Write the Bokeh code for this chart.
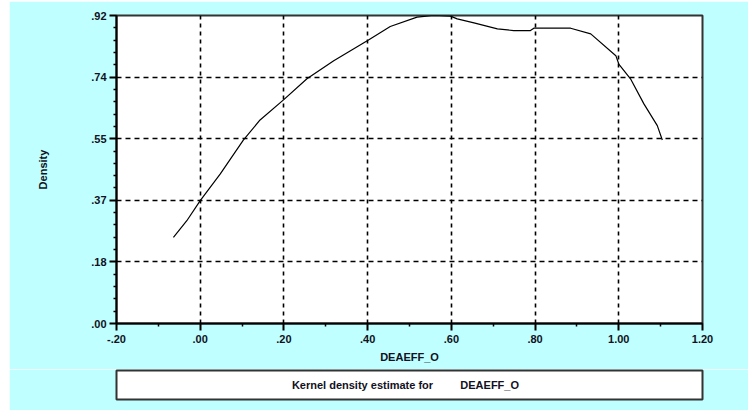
from bokeh.plotting import figure
from bokeh.models import FixedTicker, Range1d, Label
from bokeh.layouts import column
from bokeh.embed import file_html
from bokeh.resources import INLINE

# Kernel density estimate of DEAEFF_O (evaluation grid and density)
kde_x = [-0.064, -0.032, 0.000, 0.048, 0.103, 0.143, 0.199, 0.255, 0.319,
         0.359, 0.402, 0.454, 0.518, 0.557, 0.598, 0.614, 0.654, 0.710,
         0.749, 0.789, 0.797, 0.885, 0.933, 0.993, 1.000, 1.028, 1.060,
         1.092, 1.104]
kde_y = [0.257, 0.307, 0.367, 0.447, 0.548, 0.608, 0.668, 0.731, 0.785,
         0.815, 0.847, 0.887, 0.915, 0.920, 0.918, 0.910, 0.898, 0.880,
         0.875, 0.875, 0.882, 0.882, 0.865, 0.800, 0.775, 0.731, 0.656,
         0.591, 0.548]

x_ticks = [-0.2, 0.0, 0.2, 0.4, 0.6, 0.8, 1.0, 1.2]
x_tick_labels = ["-.20", ".00", ".20", ".40", ".60", ".80", "1.00", "1.20"]
x_minor = [-0.1, 0.1, 0.3, 0.5, 0.7, 0.9, 1.1]

y_ticks = [0.0, 0.184, 0.368, 0.552, 0.736, 0.92]
y_tick_labels = [".00", ".18", ".37", ".55", ".74", ".92"]
y_minor = [round(i * 0.0368, 4) for i in range(26) if i % 5 != 0]

x_title = "DEAEFF_O"
y_title = "Density"
caption_left = "Kernel density estimate for"
caption_right = "DEAEFF_O"

BG = "#BFFFFF"
INK = "#111122"
FONT = "Liberation Sans"

p = figure(width=739, height=368,
           x_range=Range1d(-0.2, 1.2), y_range=Range1d(0, 0.92),
           output_backend="svg", toolbar_location=None,
           min_border_left=107, min_border_right=46,
           min_border_top=14, min_border_bottom=46,
           background_fill_color="white", border_fill_color=BG,
           outline_line_color="#333333", outline_line_width=2)

p.line(kde_x, kde_y, line_color="black", line_width=1.2)

p.xaxis.ticker = FixedTicker(ticks=x_ticks, minor_ticks=x_minor)
p.xaxis.major_label_overrides = {t: l for t, l in zip(x_ticks, x_tick_labels)}
p.yaxis.ticker = FixedTicker(ticks=y_ticks, minor_ticks=y_minor)
p.yaxis.major_label_overrides = {t: l for t, l in zip(y_ticks, y_tick_labels)}

p.xaxis.axis_label = x_title
p.yaxis.axis_label = y_title

for ax in (p.xaxis, p.yaxis):
    ax.axis_line_color = "black"
    ax.axis_line_width = 2
    ax.major_tick_line_color = "black"
    ax.major_tick_line_width = 2
    ax.minor_tick_line_color = "black"
    ax.minor_tick_line_width = 1.5
    ax.major_tick_in = 0
    ax.minor_tick_in = 0
    ax.major_tick_out = 7
    ax.minor_tick_out = 3
    ax.major_label_text_font = FONT
    ax.major_label_text_font_style = "bold"
    ax.major_label_text_font_size = "11px"
    ax.major_label_text_color = INK
    ax.axis_label_text_font = FONT
    ax.axis_label_text_font_style = "bold"
    ax.axis_label_text_font_size = "11px"
    ax.axis_label_text_color = INK

p.xaxis.major_label_standoff = 4
p.xaxis.axis_label_standoff = 5
p.yaxis.major_label_standoff = 3
p.yaxis.axis_label_standoff = 39

p.xgrid.ticker = FixedTicker(ticks=x_ticks)
p.ygrid.ticker = FixedTicker(ticks=y_ticks)
p.xgrid.grid_line_color = "black"
p.ygrid.grid_line_color = "black"
p.xgrid.grid_line_width = 1.6
p.ygrid.grid_line_width = 1.6
p.xgrid.grid_line_dash = "4 4"
p.ygrid.grid_line_dash = "5 4"

# Caption box beneath the chart
cap = figure(width=739, height=41,
             x_range=Range1d(0, 588), y_range=Range1d(0, 1),
             x_axis_type=None, y_axis_type=None,
             output_backend="svg", toolbar_location=None,
             min_border_left=107, min_border_right=44,
             min_border_top=1, min_border_bottom=11,
             background_fill_color="white", border_fill_color=BG,
             outline_line_color="#333333", outline_line_width=2)
cap.xgrid.visible = False
cap.ygrid.visible = False
for txt, xpos in ((caption_left, 176), (caption_right, 345)):
    cap.add_layout(Label(x=xpos, y=0.5, text=txt, text_font=FONT,
                         text_font_style="bold", text_font_size="11px",
                         text_color=INK, text_baseline="middle",
                         text_align="left"))

layout = column(p, cap, spacing=0, margin=(1, 0, 0, 9))

open("out.html", "w").write(file_html(layout, INLINE))
